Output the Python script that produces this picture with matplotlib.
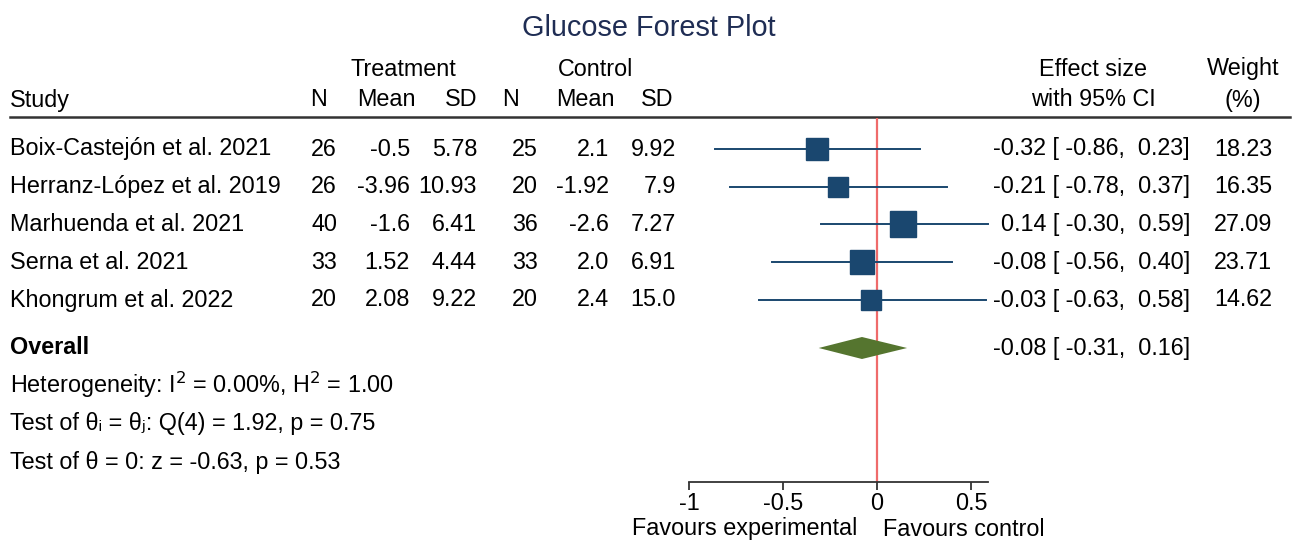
import numpy as np
import matplotlib
matplotlib.use("Agg")
import matplotlib.pyplot as plt
from matplotlib.lines import Line2D

plt.rcParams['font.family'] = ['Liberation Sans', 'DejaVu Sans']

# study data
studies = ["Boix-Castejón et al. 2021", "Herranz-López et al. 2019", "Marhuenda et al. 2021",
           "Serna et al. 2021", "Khongrum et al. 2022"]
trt_n = ["26", "26", "40", "33", "20"]
trt_mean = ["-0.5", "-3.96", "-1.6", "1.52", "2.08"]
trt_sd = ["5.78", "10.93", "6.41", "4.44", "9.22"]
ctl_n = ["25", "20", "36", "33", "20"]
ctl_mean = ["2.1", "-1.92", "-2.6", "2.0", "2.4"]
ctl_sd = ["9.92", "7.9", "7.27", "6.91", "15.0"]
effect = [-0.32, -0.21, 0.14, -0.08, -0.03]
ci_low = [-0.86, -0.78, -0.30, -0.56, -0.63]
ci_high = [0.23, 0.37, 0.59, 0.40, 0.58]
weight = [18.23, 16.35, 27.09, 23.71, 14.62]
overall = (-0.08, -0.31, 0.16)
stats_lines = [r"Heterogeneity: I$^{\mathsf{2}}$ = 0.00%, H$^{\mathsf{2}}$ = 1.00",
               "Test of θᵢ = θⱼ: Q(4) = 1.92, p = 0.75",
               "Test of θ = 0: z = -0.63, p = 0.53"]
xticks = [-1, -0.5, 0, 0.5]

navy = "#1a476f"
green = "#55752f"
fs = 16.8

W, H = 1293, 542
fig = plt.figure(figsize=(W / 100, H / 100), dpi=100)
ax = fig.add_axes([0, 0, 1, 1])
ax.set_xlim(0, W)
ax.set_ylim(H, 0)
ax.axis("off")

# pixel layout of the forest panel
x0_px, unit_px = 877, 188
top_px, axis_px = 118, 482
row_y = 149 + np.arange(len(studies)) * 37.75
overall_y = 348

left_px, right_px = 600, 1000
fax = fig.add_axes([left_px / W, 1 - axis_px / H, (right_px - left_px) / W, (axis_px - top_px) / H])
fax.set_xlim((left_px - x0_px) / unit_px, (right_px - x0_px) / unit_px)
fax.set_ylim(axis_px, top_px)
fax.patch.set_alpha(0)
for s in ["top", "right", "left"]:
    fax.spines[s].set_visible(False)
fax.spines["bottom"].set_bounds(min(xticks), max(ci_high))
fax.spines["bottom"].set_color("#333333")
fax.spines["bottom"].set_linewidth(1.3)
fax.set_yticks([])
fax.set_xticks(xticks)
fax.set_xticklabels(["-1", "-0.5", "0", "0.5"], fontsize=fs)
fax.tick_params(axis="x", length=6, width=1.3, color="#333333", pad=1)

fax.axvline(0, color="#ef6b6b", lw=1.6, zorder=1)
for i in range(len(studies)):
    fax.plot([ci_low[i], ci_high[i]], [row_y[i], row_y[i]], color=navy, lw=1.4, zorder=2)
    fax.plot(effect[i], row_y[i], marker="s", color=navy, ms=3.6 * np.sqrt(weight[i]), zorder=3)

es, lo, hi = overall
fax.fill([lo, es, hi, es], [overall_y, overall_y - 11, overall_y, overall_y + 11],
         color=green, lw=0, zorder=3)

# title and headers
ax.text(649, 28, "Glucose Forest Plot", ha="center", va="center", fontsize=20.8, color="#1f2d54")
ax.text(403, 69, "Treatment", ha="center", va="center", fontsize=fs)
ax.text(596, 69, "Control", ha="center", va="center", fontsize=fs)
ax.text(1093, 69, "Effect size", ha="center", va="center", fontsize=fs)
ax.text(1243, 69, "Weight", ha="center", va="center", fontsize=fs)
ax.text(10, 100, "Study", ha="left", va="center", fontsize=fs)
for x, lab in [(318, "N"), (386, "Mean"), (461, "SD"), (510, "N"), (585, "Mean"), (657, "SD"),
               (1093, "with 95% CI"), (1243, "(%)")]:
    ax.text(x, 100, lab, ha="center", va="center", fontsize=fs)
ax.add_line(Line2D([10, 1290], [117, 117], color="#333333", lw=1.8))

# table rows
cols = [(337, trt_n), (410, trt_mean), (477, trt_sd), (538, ctl_n), (609, ctl_mean), (676, ctl_sd)]
for i, name in enumerate(studies):
    y = row_y[i]
    ax.text(10, y, name, ha="left", va="center", fontsize=fs)
    for x, vals in cols:
        ax.text(x, y, vals[i], ha="right", va="center", fontsize=fs)
    ax.text(1190, y, f"{effect[i]:.2f} [{ci_low[i]:6.2f}, {ci_high[i]:5.2f}]",
            ha="right", va="center", fontsize=fs)
    ax.text(1272, y, f"{weight[i]:.2f}", ha="right", va="center", fontsize=fs)

ax.text(10, overall_y, "Overall", ha="left", va="center", fontsize=fs, fontweight="bold")
ax.text(1190, overall_y, f"{es:.2f} [{lo:6.2f}, {hi:5.2f}]", ha="right", va="center", fontsize=fs)
for j, line in enumerate(stats_lines):
    ax.text(10, 385 + j * 38.5, line, ha="left", va="center", fontsize=fs)

ax.text(745, 529, "Favours experimental", ha="center", va="center", fontsize=fs)
ax.text(964, 529, "Favours control", ha="center", va="center", fontsize=fs)

fig.savefig("out.png", dpi=100)
